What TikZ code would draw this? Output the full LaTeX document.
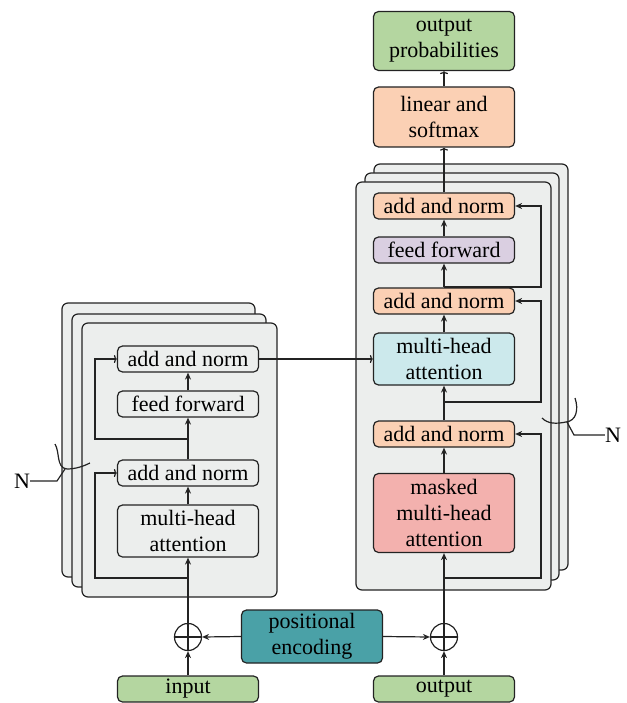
\documentclass[tikz,border=0pt]{standalone}
\usepackage{fontspec}
\setmainfont{Liberation Serif}
\usetikzlibrary{arrows.meta}

\definecolor{cardgray}{RGB}{236,238,237}
\definecolor{edge}{RGB}{35,35,35}
\definecolor{peach}{RGB}{251,208,180}
\definecolor{lilac}{RGB}{218,207,225}
\definecolor{skyblue}{RGB}{204,233,236}
\definecolor{rose}{RGB}{243,177,174}
\definecolor{leaf}{RGB}{180,214,160}
\definecolor{tealbox}{RGB}{74,161,167}

\tikzset{
  card/.style={draw=edge, line width=1.2pt, fill=cardgray, rounded corners=6pt},
  block/.style={draw=edge, line width=1.2pt, rounded corners=5pt, align=center,
    inner sep=0pt, minimum width=141pt, minimum height=26pt,
    font=\fontsize{22}{26}\selectfont},
  plainblock/.style={block, fill=cardgray},
  oplus/.style={circle, draw=edge, line width=1.2pt, minimum size=27pt, inner sep=0pt,
    path picture={
      \draw[edge, line width=1.2pt] (path picture bounding box.north) -- (path picture bounding box.south)
        (path picture bounding box.west) -- (path picture bounding box.east);}},
  wire/.style={draw=edge, line width=1.2pt},
  flow/.style={wire, -{Stealth[length=7pt,width=6pt]}},
  open/.style={wire, -{To[length=3pt,width=8pt]}},
  label/.style={font=\fontsize{22}{26}\selectfont, inner sep=0pt},
}

\begin{document}
\begin{tikzpicture}[x=1pt, y=-1pt]
\useasboundingbox (0,0) rectangle (626,703);

% encoder stack (three cards)
\draw[card] (62,303) rectangle (255,577);
\draw[card] (72,314) rectangle (266,587);
\draw[card] (82,323) rectangle (277,597);

% decoder stack (three cards)
\draw[card] (374,164) rectangle (568,570);
\draw[card] (365,173) rectangle (559,580);
\draw[card] (356,182) rectangle (551,590);

% encoder blocks
\node[plainblock] (encAN2) at (188,359) {add and norm};
\node[plainblock] (encFF)  at (188,404) {feed forward};
\node[plainblock] (encAN1) at (188,473) {add and norm};
\node[plainblock, minimum height=52pt] (encMHA) at (188,531) {multi-head\\attention};

% decoder blocks
\node[block, fill=peach] (decAN3) at (444,206) {add and norm};
\node[block, fill=lilac] (decFF)  at (444,250) {feed forward};
\node[block, fill=peach] (decAN2) at (444,301) {add and norm};
\node[block, fill=skyblue, minimum height=52pt] (decMHA) at (444,359) {multi-head\\attention};
\node[block, fill=peach] (decAN1) at (444,434) {add and norm};
\node[block, fill=rose, minimum height=79pt] (decMMHA) at (444,513) {masked\\multi-head\\attention};

% output head
\node[block, fill=peach, minimum height=60pt] (lin) at (444,117) {linear and\\softmax};
\node[block, fill=leaf, minimum height=59pt] (probs) at (444,41) {output\\probabilities};

% inputs and positional encoding
\node[block, fill=leaf] (inp) at (188,689) {input};
\node[block, fill=leaf] (outp) at (444,689) {output};
\node[block, fill=tealbox, minimum height=53pt] (pe) at (312,636.5) {positional\\encoding};
\node[oplus] (addL) at (188,637) {};
\node[oplus] (addR) at (444,637) {};

% bottom connections
\draw[flow] (inp.north) -- (addL.south);
\draw[flow] (outp.north) -- (addR.south);
\draw[flow] (pe.west) -- (addL.east);
\draw[flow] (pe.east) -- (addR.west);
\draw[flow] (addL.north) -- (encMHA.south);
\draw[flow] (addR.north) -- (decMMHA.south);

% encoder flow
\draw[flow] (encMHA.north) -- (encAN1.south);
\draw[flow] (encAN1.north) -- (encFF.south);
\draw[flow] (encFF.north) -- (encAN2.south);
\coordinate (eS1) at (188,578);
\coordinate (eS2) at (188,439);
\draw[open] (eS1) -- ++(-93,0) |- (encAN1.west);
\draw[open] (eS2) -- ++(-93,0) |- (encAN2.west);

% encoder to decoder
\draw[open] (encAN2.east) -- (decMHA.west);

% decoder flow
\draw[flow] (decMMHA.north) -- (decAN1.south);
\draw[flow] (decAN1.north) -- (decMHA.south);
\draw[flow] (decMHA.north) -- (decAN2.south);
\draw[flow] (decAN2.north) -- (decFF.south);
\draw[flow] (decFF.north) -- (decAN3.south);
\coordinate (dS1) at (444,578);
\coordinate (dS2) at (444,402);
\coordinate (dS3) at (444,287);
\draw[flow] (dS1) -- ++(97,0) |- (decAN1.east);
\draw[flow] (dS2) -- ++(97,0) |- (decAN2.east);
\draw[flow] (dS3) -- ++(97,0) |- (decAN3.east);
\draw[open] (decAN3.north) -- (lin.south);
\draw[open] (lin.north) -- (probs.south);

% repetition marks
\node[label] (nL) at (22,481) {N};
\draw[wire] (55,444) .. controls (60,452) and (56,468) .. (67,469)
  .. controls (76,469) and (84,466) .. (90,463);
\draw[wire] (nL.east) -- (57,481) -- (65,469);

\node[label] (nR) at (613,435) {N};
\draw[wire] (575,398) .. controls (579,410) and (576,421) .. (566,422)
  .. controls (556,424) and (548,424) .. (542,418);
\draw[wire] (nR.west) -- (574,435) -- (567,422);
\end{tikzpicture}
\end{document}
